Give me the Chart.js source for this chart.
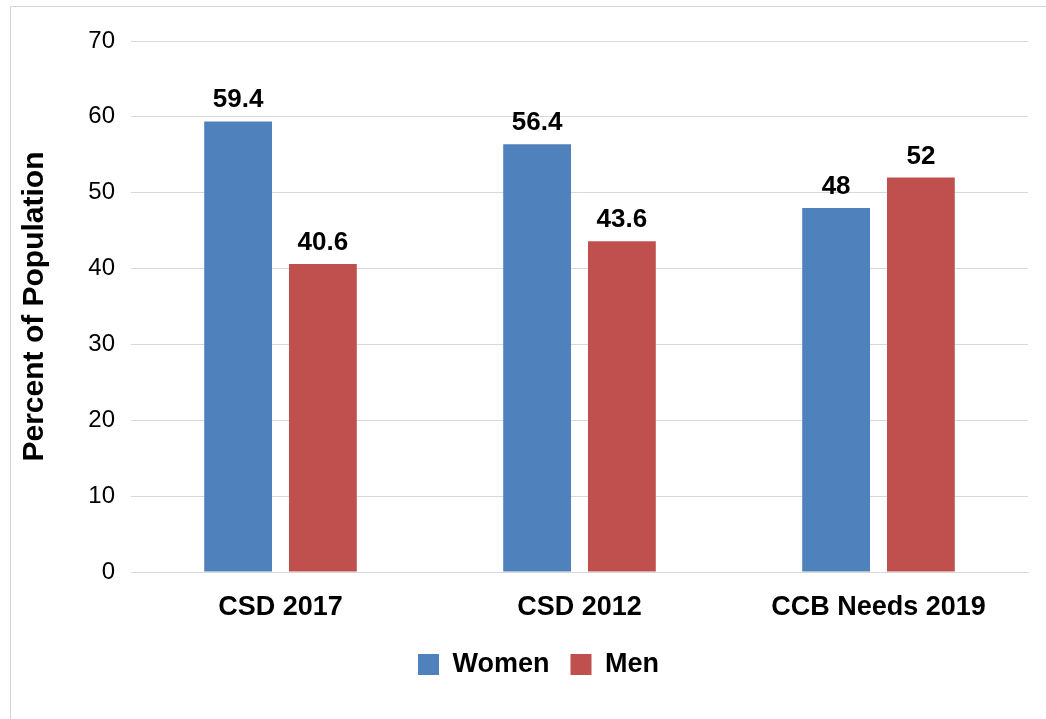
<!DOCTYPE html>
<html>
<head>
<meta charset="utf-8">
<title>Percent of Population</title>
<script src="https://cdn.jsdelivr.net/npm/chart.js@4.4.1/dist/chart.umd.min.js"></script>
<style>
  html, body { margin: 0; padding: 0; background: #fff; }
  #wrap { width: 1046px; height: 719px; }
</style>
</head>
<body>
<div id="wrap"><canvas id="myChart" width="1046" height="719"></canvas></div>
<script>
// Survey groups and population split
var categories = ['CSD 2017', 'CSD 2012', 'CCB Needs 2019'];
var women = [59.4, 56.4, 48];
var men = [40.6, 43.6, 52];
var yTicks = [0, 10, 20, 30, 40, 50, 60, 70];

var FONT = '"Liberation Sans", Arial, sans-serif';

// Light frame along the top and left edges
var framePlugin = {
    id: 'frame',
    beforeDraw: function(chart) {
        var ctx = chart.ctx;
        ctx.save();
        ctx.fillStyle = '#ffffff';
        ctx.fillRect(0, 0, chart.width, chart.height);
        ctx.strokeStyle = '#d4d4d4';
        ctx.lineWidth = 1;
        ctx.beginPath();
        ctx.moveTo(10.5, chart.height);
        ctx.lineTo(10.5, 6.5);
        ctx.lineTo(chart.width, 6.5);
        ctx.stroke();
        ctx.restore();
    }
};

// Center the legend under the plot area rather than the whole canvas
var legendShift = {
    id: 'legendShift',
    afterLayout: function(chart) {
        var lg = chart.legend;
        if (!lg) return;
        var dx = (chart.chartArea.left + chart.chartArea.right) / 2 - (lg.left + lg.right) / 2 - 41;
        lg.left += dx;
        lg.right += dx;
    }
};

// Value labels above each bar
var valueLabels = {
    id: 'valueLabels',
    afterDatasetsDraw: function(chart) {
        var ctx = chart.ctx;
        ctx.save();
        ctx.font = 'bold 26px ' + FONT;
        ctx.fillStyle = '#000';
        ctx.textAlign = 'center';
        ctx.textBaseline = 'alphabetic';
        chart.data.datasets.forEach(function(ds, i) {
            chart.getDatasetMeta(i).data.forEach(function(bar, j) {
                ctx.fillText(String(ds.data[j]), bar.x, bar.y - 14);
            });
        });
        ctx.restore();
    }
};

function renderChart() {
    var ctx = document.getElementById('myChart').getContext('2d');
    new Chart(ctx, {
        type: 'bar',
        data: {
            labels: categories,
            datasets: [{
                label: 'Women',
                data: women,
                backgroundColor: '#4F81BD'
            }, {
                label: 'Men',
                data: men,
                backgroundColor: '#C0504D'
            }]
        },
        options: {
            responsive: false,
            animation: false,
            categoryPercentage: 0.567,
            barPercentage: 0.8,
            layout: {
                padding: { left: 10, right: 18, top: 41, bottom: 31 }
            },
            plugins: {
                legend: {
                    position: 'bottom',
                    labels: {
                        boxWidth: 21,
                        boxHeight: 21,
                        padding: 21,
                        color: '#000',
                        font: { family: FONT, size: 27, weight: 'bold' }
                    }
                },
                tooltip: { enabled: false }
            },
            scales: {
                x: {
                    grid: { display: false, drawTicks: false },
                    border: { color: '#d9d9d9' },
                    ticks: {
                        padding: 19,
                        color: '#000',
                        font: { family: FONT, size: 27, weight: 'bold' }
                    },
                    afterFit: function(scale) { scale.height = 58; }
                },
                y: {
                    min: 0,
                    max: 70,
                    afterBuildTicks: function(scale) {
                        scale.ticks = yTicks.map(function(v) { return { value: v }; });
                    },
                    grid: { color: '#d9d9d9', drawTicks: false },
                    border: { display: false },
                    ticks: {
                        padding: 16,
                        color: '#000',
                        font: { family: FONT, size: 24 }
                    },
                    title: {
                        display: true,
                        text: 'Percent of Population',
                        color: '#000',
                        padding: { top: 7, bottom: 0 },
                        font: { family: FONT, size: 30, weight: 'bold' }
                    },
                    afterFit: function(scale) { scale.width = 121; }
                }
            }
        },
        plugins: [framePlugin, legendShift, valueLabels]
    });
}
window.onload = renderChart;
</script>
</body>
</html>
